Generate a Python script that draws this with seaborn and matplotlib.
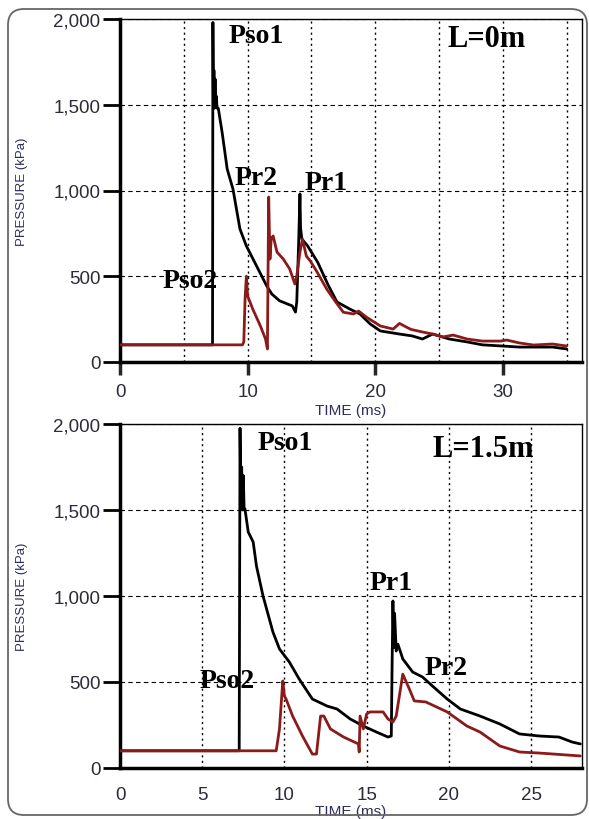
import matplotlib
matplotlib.use("Agg")
import matplotlib.pyplot as plt
from matplotlib.patches import FancyBboxPatch
from matplotlib.transforms import IdentityTransform
from matplotlib.ticker import FuncFormatter
import seaborn as sns
import pandas as pd

# ---------------- data ----------------
# Panel L = 0 m
l0_black_t = [0, 7.25, 7.28, 7.32, 7.36, 7.40, 7.45, 7.50, 7.55, 7.60, 7.7, 8.0, 8.4, 8.85, 9.4, 9.9,
              10.7, 11.5, 11.9, 12.5, 13.5, 13.75, 13.85, 14.0, 14.1, 14.15, 14.25, 14.7, 15.5, 16.3,
              17.0, 18.0, 18.8, 19.6, 20.4, 21.9, 22.9, 23.7, 24.5, 25.8, 27.2, 28.4, 30.0, 31.3,
              32.4, 33.9, 35.0]
l0_black_p = [100, 100, 1980, 1500, 1700, 1480, 1650, 1500, 1550, 1480, 1480, 1340, 1125, 1009, 775, 677,
              560, 443, 396, 357, 327, 291, 350, 700, 980, 780, 717, 677, 580, 450,
              350, 309, 280, 222, 181, 163, 152, 134, 163, 134, 117, 100, 93, 87,
              87, 87, 76]
l0_red_t = [0, 9.6, 9.7, 9.8, 9.9, 10.0, 10.4, 11.0, 11.4, 11.55, 11.65, 11.75, 11.85, 12.0, 12.3, 12.8,
            13.3, 13.7, 13.85, 14.1, 14.3, 14.6, 14.9, 15.4, 16.2, 16.9, 17.5, 18.3, 18.7, 19.3, 20.4,
            21.4, 21.9, 22.4, 22.8, 23.7, 24.5, 25.3, 26.1, 27.2, 28.4, 29.8, 30.3, 31.3, 32.4, 33.9, 35.0]
l0_red_p = [100, 100, 117, 367, 500, 385, 309, 210, 134, 76, 962, 600, 720, 735, 641, 600,
            542, 455, 500, 641, 717, 618, 590, 530, 425, 350, 290, 280, 297, 262, 210,
            192, 225, 205, 190, 175, 163, 146, 157, 134, 122, 122, 128, 111, 99, 105, 93]

# Panel L = 1.5 m
l15_black_t = [0, 7.25, 7.3, 7.35, 7.4, 7.45, 7.5, 7.55, 7.6, 7.8, 8.1, 8.3, 8.7, 9.3, 9.7, 10.3, 10.9,
               11.7, 12.6, 13.2, 14.0, 14.8, 15.6, 16.3, 16.5, 16.55, 16.6, 16.65, 16.7, 16.8, 16.9,
               17.0, 17.2, 17.8, 18.4, 19.0, 19.9, 20.7, 21.9, 23.1, 24.3, 25.5, 26.7, 27.5, 28.0]
l15_black_p = [100, 100, 1975, 1550, 1750, 1500, 1700, 1500, 1506, 1372, 1314, 1174, 1000, 791, 692, 616, 517,
               401, 360, 343, 285, 244, 209, 180, 186, 600, 971, 700, 900, 680, 720,
               692, 634, 558, 529, 477, 401, 343, 302, 256, 198, 186, 180, 151, 140]
l15_red_t = [0, 9.5, 9.7, 9.9, 10.0, 10.1, 10.5, 11.1, 11.7, 11.95, 12.2, 12.4, 12.8, 13.6, 14.5, 14.55,
             14.6, 14.8, 15.0, 15.2, 16.0, 16.3, 16.6, 16.8, 17.2, 17.6, 17.9, 18.6, 19.9, 21.1, 21.9,
             23.1, 24.3, 25.5, 28.0]
l15_red_p = [100, 100, 227, 506, 419, 401, 302, 186, 81, 81, 302, 302, 227, 180, 140, 93,
             302, 227, 314, 326, 326, 285, 267, 302, 546, 459, 390, 384, 326, 244, 209,
             128, 93, 87, 70]

y_ticks = [0, 500, 1000, 1500, 2000]
top_x_major = [0, 10, 20, 30]
top_x_minor = [5, 15, 25, 35]
bot_x_major = [0, 5, 10, 15, 20, 25]

panel_titles = ["L=0m", "L=1.5m"]
x_label = "TIME (ms)"
y_label = "PRESSURE (kPa)"

# annotation labels with positions (time, pressure) per panel
top_notes = [("Pso1", 8.5, 1866), ("Pr2", 9.0, 1038), ("Pr1", 14.5, 1009), ("Pso2", 3.37, 437)]
bot_notes = [("Pso1", 8.39, 1855), ("Pr1", 15.2, 1041), ("Pso2", 4.86, 471), ("Pr2", 18.5, 547)]

BLACK = "#000000"
RED = "#8b1a1a"
TICKC = "#2b2b3b"
LABELC = "#2e2e5e"

sns.set_style("ticks")
plt.rcParams["font.family"] = ["Liberation Sans", "DejaVu Sans"]

fig = plt.figure(figsize=(5.89, 8.2), dpi=100)
ax1 = fig.add_axes([120 / 589, 1 - 363 / 820, 462 / 589, 343 / 820])
ax2 = fig.add_axes([120 / 589, 1 - 769 / 820, 462 / 589, 344 / 820])

def draw(ax, bt, bp, rt, rp):
    dfb = pd.DataFrame({"t": bt, "p": bp})
    dfr = pd.DataFrame({"t": rt, "p": rp})
    sns.lineplot(data=dfb, x="t", y="p", ax=ax, color=BLACK, lw=2.0, sort=False, estimator=None, zorder=4)
    sns.lineplot(data=dfr, x="t", y="p", ax=ax, color=RED, lw=2.0, sort=False, estimator=None, zorder=5)

draw(ax1, l0_black_t, l0_black_p, l0_red_t, l0_red_p)
draw(ax2, l15_black_t, l15_black_p, l15_red_t, l15_red_p)

fmt = FuncFormatter(lambda v, pos: f"{int(v):,}")
serif = ["Liberation Serif", "DejaVu Serif"]

for ax, xlim, title, tpos, notes in [
    (ax1, 36.2, panel_titles[0], (25.7, 1843), top_notes),
    (ax2, 28.1, panel_titles[1], (19.0, 1814), bot_notes),
]:
    ax.set_xlim(0, xlim)
    ax.set_ylim(0, 2000)
    ax.set_yticks(y_ticks)
    ax.yaxis.set_major_formatter(fmt)
    ax.set_xlabel(x_label, fontsize=11, color=LABELC)
    ax.set_ylabel(y_label, fontsize=9.5, color=LABELC)
    ax.yaxis.set_label_coords(-0.20, 0.5)
    for s in ["top", "right"]:
        ax.spines[s].set_visible(True)
        ax.spines[s].set_linewidth(1.0)
        ax.spines[s].set_color("black")
    for s in ["left", "bottom"]:
        ax.spines[s].set_linewidth(2.5)
        ax.spines[s].set_color("black")
    ax.tick_params(axis="y", which="major", length=12, width=2, pad=2,
                   labelsize=13.5, labelcolor=TICKC, color="black", direction="out")
    ax.yaxis.grid(True, which="major", ls=(0, (4, 3)), color="black", lw=0.8)
    ax.xaxis.grid(True, which="both", ls=(0, (1.5, 2.5)), color="black", lw=1.0)
    ax.set_axisbelow(True)
    ax.text(tpos[0], tpos[1], title, family=serif, fontweight="bold", fontsize=22,
            color="black", va="baseline", ha="left", zorder=6)
    for lab, xx, yy in notes:
        ax.text(xx, yy, lab, family=serif, fontweight="bold", fontsize=20,
                color="black", va="baseline", ha="left", zorder=6)

ax1.set_xticks(top_x_major)
ax1.set_xticks(top_x_minor, minor=True)
ax1.tick_params(axis="x", which="major", length=9, width=2.5, pad=6,
                labelsize=13.5, labelcolor=TICKC, direction="out")
ax1.tick_params(axis="x", which="minor", length=0)
ax1.xaxis.set_label_coords(0.5, -0.12)

ax2.set_xticks(bot_x_major)
ax2.tick_params(axis="x", which="major", length=0, pad=13,
                labelsize=13.5, labelcolor=TICKC)
ax2.xaxis.set_label_coords(0.5, -0.105)

# outer rounded frame (pixel coordinates)
frame = FancyBboxPatch((8, 820 - 816), 579, 806, boxstyle="round,pad=0,rounding_size=16",
                       transform=IdentityTransform(), fill=False, ec="#666666", lw=1.3,
                       figure=fig)
fig.patches.append(frame)

fig.savefig("out.png", dpi=100)
